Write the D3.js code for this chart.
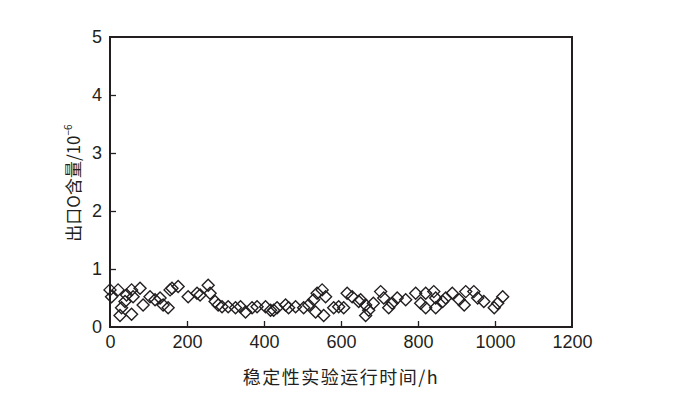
<!DOCTYPE html>
<html><head><meta charset="utf-8">
<script src="https://cdn.jsdelivr.net/npm/d3@7"></script>
<style>body{margin:0;background:#fff}</style>
</head><body><svg id="c" width="687" height="405"></svg>
<script>
const hours = [0,4,21,30,26,39,43,56,56,60,78,86,104,117,130,138,151,156,161,177,
203,226,234,255,260,273,281,291,307,326,339,352,369,382,404,417,
425,434,456,464,482,503,516,529,538,551,560,534,555,581,594,607,616,629,646,
651,664,664,672,684,703,711,724,733,746,768,794,807,820,820,841,846,846,864,
872,889,907,920,924,945,955,971,998,1007,1020];
const values = [0.64,0.52,0.64,0.33,0.2,0.44,0.55,0.64,0.22,0.52,0.67,0.38,0.52,0.47,0.5,0.38,0.33,0.64,0.67,0.7,
0.52,0.58,0.55,0.72,0.58,0.44,0.38,0.35,0.35,0.33,0.35,0.26,0.33,0.35,0.35,0.29,
0.29,0.33,0.38,0.33,0.35,0.33,0.38,0.47,0.58,0.64,0.52,0.26,0.2,0.33,0.35,0.33,0.58,0.52,0.44,
0.47,0.38,0.2,0.29,0.41,0.61,0.5,0.33,0.41,0.5,0.47,0.58,0.41,0.33,0.58,0.61,0.5,0.33,0.44,
0.5,0.58,0.47,0.38,0.61,0.61,0.5,0.44,0.33,0.41,0.52];
const xTicks = [0,200,400,600,800,1000,1200];
const yTicks = [0,1,2,3,4,5];
const xTitle = "稳定性实验运行时间/h";

const svg = d3.select("#c");
const L=110,R=572,T=37,B=327;
const x = d3.scaleLinear().domain([0,1200]).range([L,R]);
const y = d3.scaleLinear().domain([0,5]).range([B,T]);
const font = "'Liberation Sans', Arial, sans-serif";
const cjk = "'Noto Sans CJK SC', 'Liberation Sans', sans-serif";

// frame
svg.append("rect").attr("x",L).attr("y",T).attr("width",R-L).attr("height",B-T)
  .attr("fill","none").attr("stroke","#231f20").attr("stroke-width",2);

const xa = svg.append("g").attr("transform",`translate(0,${B})`)
  .call(d3.axisBottom(x).tickValues(xTicks).tickFormat(d3.format("d")).tickSizeInner(-6).tickSizeOuter(0).tickPadding(8));
const ya = svg.append("g").attr("transform",`translate(${L},0)`)
  .call(d3.axisLeft(y).tickValues(yTicks).tickFormat(d3.format("d")).tickSizeInner(-6).tickSizeOuter(0).tickPadding(8));
[xa,ya].forEach(a=>{
  a.select(".domain").remove();
  a.selectAll("line").attr("stroke","#231f20").attr("stroke-width",1.3);
  a.selectAll("text").attr("font-family",font).attr("font-size",18).attr("fill","#231f20");
});
xa.selectAll(".tick").filter(d=>d===0||d===1200).select("line").remove();
ya.selectAll(".tick").filter(d=>d===0||d===5).select("line").remove();

// points
const data = hours.map((h,i)=>({h,v:values[i]}));
const s=6;
svg.append("g").selectAll("path").data(data).join("path")
  .attr("d",d=>{const cx=x(d.h),cy=y(d.v);return `M${cx},${cy-s}L${cx+s},${cy}L${cx},${cy+s}L${cx-s},${cy}Z`;})
  .attr("fill","none").attr("stroke","#231f20").attr("stroke-width",1.4);

// titles
svg.append("text").attr("x",341).attr("y",384).attr("text-anchor","middle")
  .attr("font-family",cjk).attr("font-size",18).attr("letter-spacing",1.5).attr("fill","#231f20").text(xTitle);
const yt = svg.append("text").attr("transform","translate(80,183) rotate(-90)").attr("text-anchor","middle")
  .attr("font-family",cjk).attr("font-size",17).attr("fill","#231f20");
yt.append("tspan").text("出口O含量/10");
yt.append("tspan").attr("font-size",10).attr("dy",-8).text("−6");
</script></body></html>
